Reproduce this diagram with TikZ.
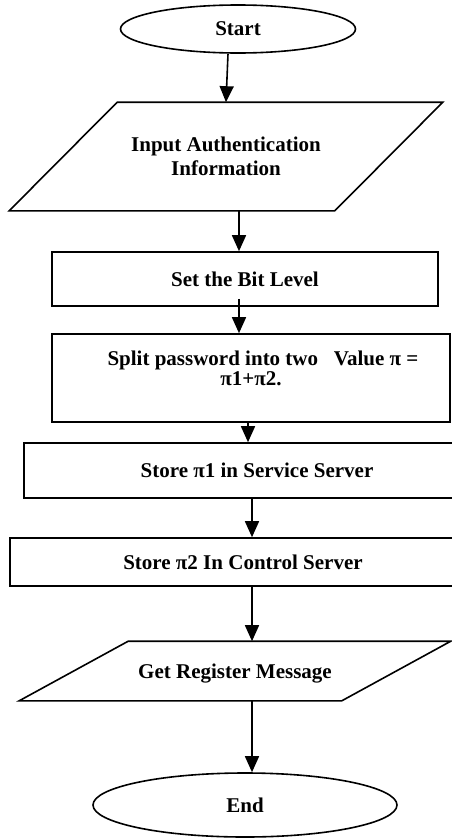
\documentclass[tikz,border=0pt]{standalone}
\usepackage{fontspec}
\setmainfont{Liberation Serif}
\usetikzlibrary{shapes.geometric,arrows.meta}
\begin{document}
\begin{tikzpicture}[x=1pt,y=-1pt,line width=1.6pt]
    \tikzstyle{every node}=[draw,font=\bfseries\fontsize{21}{24}\selectfont,align=center];
    \tikzstyle{flow}=[-{Triangle[width=14pt,length=16pt]}];
    \tikzstyle{term}=[ellipse,inner sep=0pt];
    \tikzstyle{io}=[rectangle,draw=none,inner sep=0pt];
    \tikzstyle{proc}=[rectangle,inner sep=0pt];
    \clip (0,0) rectangle (452,838);
    \node at (238, 29)    (start) [term,minimum width=235,minimum height=48] {Start};
    \node at (226, 156.5) (input) [io,minimum width=432,minimum height=107] {Input Authentication\\Information};
    \node at (245, 279)   (level) [proc,minimum width=386,minimum height=54] {Set the Bit Level};
    \node at (251, 378)   (split) [proc,minimum width=398,minimum height=88,font=\bfseries\fontsize{21}{20}\selectfont] {\hspace*{24pt}Split password into two\ \ \ Value π =\\π1+π2.\\\mbox{}};
    \node at (257, 470.5) (pione) [proc,minimum width=466,minimum height=55] {Store π1 in Service Server};
    \node at (243, 562)   (pitwo) [proc,minimum width=466,minimum height=48] {Store π2 In Control Server};
    \node at (235, 671)   (reg)   [io,minimum width=430,minimum height=58,text depth=0pt] {Get Register Message};
    \node at (245, 805)   (stop)  [term,minimum width=304,minimum height=64] {End};

    % slanted sides of the two input/output boxes
    \draw ([xshift=108]input.north west) -- (input.north east) -- ([xshift=-108]input.south east) -- (input.south west) -- cycle;
    \draw ([xshift=109]reg.north west) -- (reg.north east) -- ([xshift=-109]reg.south east) -- (reg.south west) -- cycle;

    \draw[flow] ([xshift=-10]start.south) to (input.north);
    \draw[flow] ([xshift=13]input.south) to ([xshift=-6]level.north);
    \draw[flow] ([xshift=-6,yshift=8]level.south) to ([xshift=-12]split.north);
    \draw[flow] ([xshift=-3]split.south) to ([xshift=-9]pione.north);
    \draw[flow] ([xshift=-5]pione.south) to ([xshift=9]pitwo.north);
    \draw[flow] ([xshift=9]pitwo.south) to ([xshift=17]reg.north);
    \draw[flow] ([xshift=17]reg.south) to ([xshift=7]stop.north);
\end{tikzpicture}
\end{document}
